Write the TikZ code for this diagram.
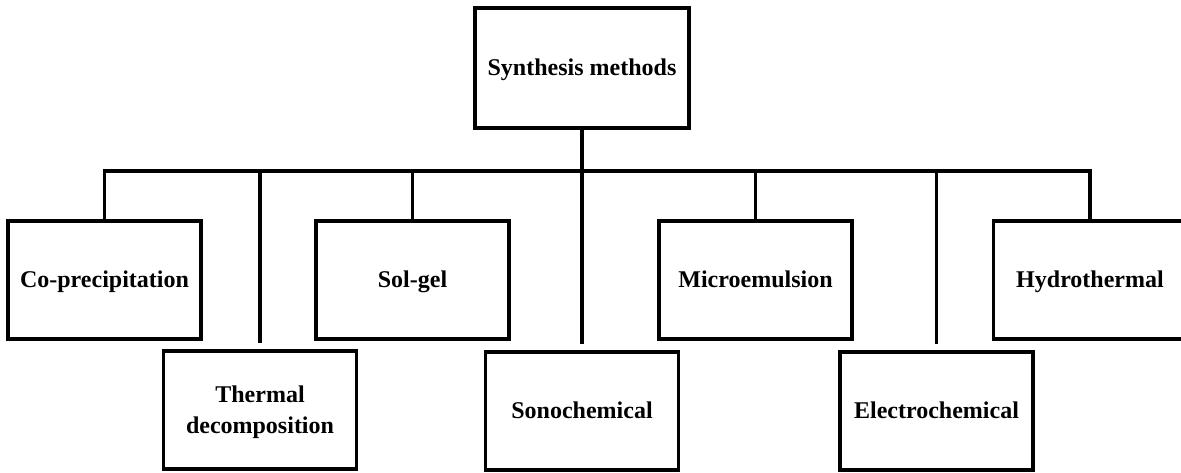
\documentclass[tikz,border=0pt]{standalone}
\usepackage{fontspec}
\setmainfont{Liberation Serif}
\usepackage{tikz}
\usetikzlibrary{positioning}

\begin{document}
\begin{tikzpicture}[
        x=0.5pt, y=-0.5pt,
        method/.style={
            rectangle,
            draw,
            line width=1.6pt,
            minimum width=96.5pt,
            minimum height=59pt,
            text height=8pt,
            text depth=0.5pt,
            align=center,
            font=\fontsize{12}{15.5}\selectfont\bfseries
        },
        root/.style={
            method,
            minimum width=107pt,
            minimum height=60pt
        },
        link/.style={
            draw,
            line width=1.6pt
        }
    ]
    \useasboundingbox (0,0) rectangle (1181,472);

    % Nodes
    \node[root] (synth) at (582,68) {Synthesis methods};
    \node[method] (coprec) at (104.5,280) {Co-precipitation};
    \node[method] (solgel) at (412.5,280) {Sol-gel};
    \node[method] (micro) at (755.5,280) {Microemulsion};
    \node[method] (hydro) at (1090,280) {Hydrothermal};
    \node[method, text height=23.5pt] (thermal) at (260,410) {Thermal\\decomposition};
    \node[method] (sono) at (582,411) {Sonochemical};
    \node[method] (electro) at (936.5,411) {Electrochemical};
    \coordinate (bus) at (0,171);

    % Lines
    \path[link] (coprec.north) |- (bus -| hydro.north) -- (hydro.north);
    \path[link, shorten >=3pt] (synth.south) -- (sono.north);
    \foreach \m in {solgel, micro}
        \path[link] (\m.north) -- (\m.north |- bus);
    \foreach \m in {thermal, electro}
        \path[link, shorten <=3pt] (\m.north) -- (\m.north |- bus);
\end{tikzpicture}
\end{document}
